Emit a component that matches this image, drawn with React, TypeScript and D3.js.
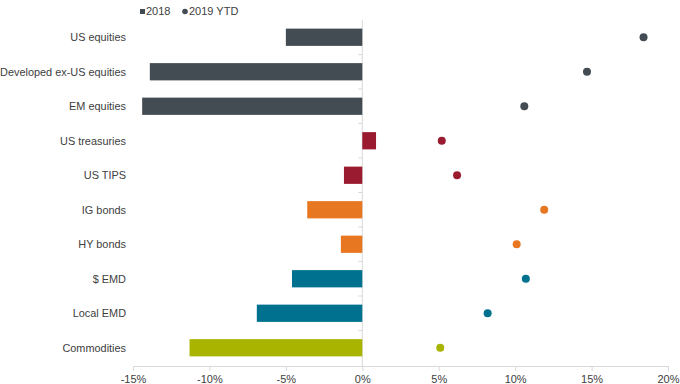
import React, { useRef, useEffect } from 'react';
import * as d3 from 'd3';

const categories = [
  'US equities', 'Developed ex-US equities', 'EM equities', 'US treasuries', 'US TIPS',
  'IG bonds', 'HY bonds', '$ EMD', 'Local EMD', 'Commodities',
];
const values2018 = [-5.0, -13.9, -14.4, 0.9, -1.2, -3.6, -1.4, -4.6, -6.9, -11.3];
const values2019 = [18.4, 14.7, 10.6, 5.2, 6.2, 11.9, 10.1, 10.7, 8.2, 5.1];
const colors = [
  '#434c53', '#434c53', '#434c53', '#9a1b30', '#9a1b30',
  '#e87722', '#e87722', '#00718f', '#00718f', '#a8b400',
];
const xTicks = [-15, -10, -5, 0, 5, 10, 15, 20];

const Chart = () => {
  const ref = useRef<SVGSVGElement>(null);

  useEffect(() => {
    const svg = d3.select(ref.current);
    svg.selectAll('*').remove();

    const x = d3.scaleLinear().domain([-15, 20]).range([133, 668]);
    const y = d3.scaleBand().domain(categories).range([20, 365]).paddingInner(0.5).paddingOuter(0.25);
    const band = d3.scaleBand().domain(categories).range([20, 365]);
    const font = "'Liberation Sans', Arial, sans-serif";

    // legend
    const legend = svg.append('g').attr('font-family', font).attr('font-size', 11).attr('fill', '#404040');
    legend.append('rect').attr('x', 140).attr('y', 9).attr('width', 5).attr('height', 5).attr('fill', '#434c53');
    legend.append('text').attr('x', 146).attr('y', 15).text('2018');
    legend.append('circle').attr('cx', 185).attr('cy', 11.5).attr('r', 2.8).attr('fill', '#434c53');
    legend.append('text').attr('x', 189).attr('y', 15).text('2019 YTD');

    // zero axis with category ticks
    svg.append('line').attr('x1', x(0)).attr('x2', x(0)).attr('y1', 20).attr('y2', 366)
      .attr('stroke', '#d9d9d9').attr('stroke-width', 1);
    svg.selectAll('line.ytick').data(categories.slice(1)).enter().append('line')
      .attr('class', 'ytick')
      .attr('x1', x(0) - 4).attr('x2', x(0))
      .attr('y1', d => band(d)!).attr('y2', d => band(d)!)
      .attr('stroke', '#d9d9d9');

    // x axis
    const xAxis = svg.append('g').attr('transform', 'translate(0,366)')
      .call(d3.axisBottom(x).tickValues(xTicks).tickSize(5).tickFormat(d => `${d}%`));
    xAxis.select('.domain').attr('stroke', '#d9d9d9');
    xAxis.selectAll('.tick line').attr('stroke', '#d9d9d9');
    xAxis.selectAll('.tick text').attr('font-family', font).attr('font-size', 11).attr('fill', '#404040').attr('dy', '0.85em');

    // category labels
    svg.selectAll('text.cat').data(categories).enter().append('text')
      .attr('class', 'cat')
      .attr('x', 126)
      .attr('y', d => band(d)! + band.bandwidth() / 2)
      .attr('dy', '0.35em')
      .attr('text-anchor', 'end')
      .attr('font-family', font).attr('font-size', 10.9).attr('fill', '#404040')
      .text(d => d);

    // bars
    svg.selectAll('rect.bar').data(values2018).enter().append('rect')
      .attr('class', 'bar')
      .attr('x', d => x(Math.min(0, d)))
      .attr('y', (d, i) => y(categories[i])!)
      .attr('width', d => Math.abs(x(d) - x(0)))
      .attr('height', y.bandwidth())
      .attr('fill', (d, i) => colors[i]);

    // dots
    svg.selectAll('circle.dot').data(values2019).enter().append('circle')
      .attr('class', 'dot')
      .attr('cx', d => x(d))
      .attr('cy', (d, i) => band(categories[i])! + band.bandwidth() / 2)
      .attr('r', 4)
      .attr('fill', (d, i) => colors[i]);
  }, []);

  return <svg ref={ref} width={680} height={384} style={{ display: 'block' }} />;
};

export default function App() {
  return (
    <div style={{ position: 'absolute', left: 0, top: 0, background: '#fff' }}>
      <Chart />
    </div>
  );
}
